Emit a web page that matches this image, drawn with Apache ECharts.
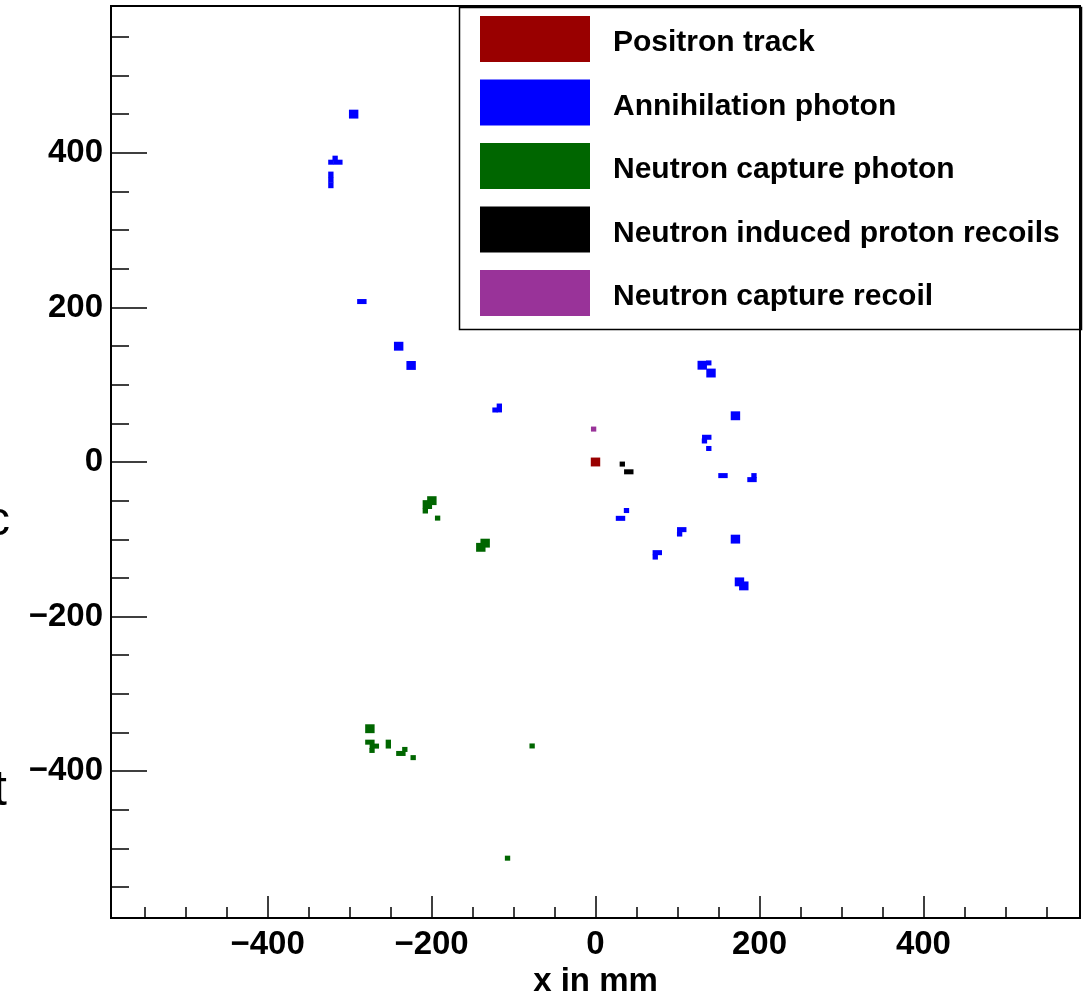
<!DOCTYPE html>
<html>
<head>
<meta charset="utf-8">
<script src="https://cdn.jsdelivr.net/npm/echarts@6/dist/echarts.min.js"></script>
<style>
  html, body { margin: 0; padding: 0; background: #fff; }
  #main { width: 1089px; height: 995px; }
</style>
</head>
<body>
<div id="main"></div>
<script>
// energy deposits, each row: [x mm, y mm, box width mm, box height mm]
const positronTrack = [
  [0, 0, 11.5, 11.5]
];
const annihilationPhoton = [
  [130.2, 125.2, 11.5, 11.5], [138.2, 128.2, 6.5, 6.5], [140.9, 115.1, 11.5, 11.5],
  [170.7, 59.8, 11.5, 11.5], [135.7, 32.0, 11.5, 6.5], [132.9, 27.2, 6.5, 6.5],
  [138.2, 17.5, 6.5, 6.5], [155.5, -17.6, 11.5, 6.5], [193.3, -17.6, 6.5, 6.5],
  [190.9, -22.8, 11.5, 6.5], [37.8, -62.8, 6.5, 6.5], [30.5, -72.9, 11.5, 6.5],
  [105.2, -87.5, 11.5, 6.5], [102.6, -93.2, 6.5, 6.5], [170.7, -99.8, 11.5, 11.5],
  [75.4, -117.3, 11.5, 6.5], [72.9, -123.0, 6.5, 6.5], [175.6, -155.1, 11.5, 11.5],
  [180.9, -160.3, 11.5, 11.5], [-295.0, 450.1, 11.5, 11.5], [-317.6, 393.1, 6.5, 6.5],
  [-322.8, 387.9, 6.5, 6.5], [-314.3, 387.9, 11.5, 6.5], [-322.8, 372.0, 6.5, 7.5],
  [-322.8, 365.0, 6.5, 7.5], [-322.8, 358.0, 6.5, 7.5], [-285.0, 207.6, 11.5, 6.5],
  [-240.1, 149.8, 11.5, 11.5], [-224.9, 124.9, 11.5, 11.5], [-117.3, 69.9, 6.5, 11.5],
  [-122.6, 67.3, 6.5, 6.5]
];
const neutronCapturePhoton = [
  [-199.6, -50.0, 11.5, 11.5], [-205.1, -55.1, 11.5, 11.5], [-207.6, -63.4, 6.5, 6.5],
  [-192.6, -72.6, 6.5, 6.5], [-134.6, -105.0, 11.5, 11.5], [-139.9, -110.4, 11.5, 11.5],
  [-275.2, -345.1, 11.5, 11.5], [-275.2, -362.5, 11.5, 6.5], [-269.8, -367.6, 11.5, 6.5],
  [-272.6, -373.2, 6.5, 6.5], [-252.7, -365.0, 6.5, 11.5], [-237.4, -377.1, 11.5, 6.5],
  [-232.6, -371.9, 6.5, 6.5], [-222.4, -382.5, 6.5, 6.5], [-77.3, -367.4, 6.5, 6.5],
  [-107.3, -512.6, 6.5, 6.5]
];
const protonRecoils = [
  [32.7, -2.7, 6.5, 6.5], [40.6, -12.7, 11.5, 6.5]
];
const captureRecoil = [
  [-2.3, 42.6, 6.5, 6.5]
];

const majorTicks = [-400, -200, 0, 200, 400];
const minorTicks = [-550, -500, -450, -350, -300, -250, -150, -100, -50,
                    50, 100, 150, 250, 300, 350, 450, 500, 550];

const font = 'Liberation Sans, Helvetica, Arial, sans-serif';

function boxes(name, color, data) {
  return {
    name: name,
    type: 'custom',
    itemStyle: { color: color },
    data: data,
    renderItem: function (params, api) {
      const c = api.coord([api.value(0), api.value(1)]);
      const s = api.size([api.value(2), api.value(3)]);
      return {
        type: 'rect',
        shape: { x: c[0] - s[0] / 2, y: c[1] - s[1] / 2, width: s[0], height: s[1] },
        style: { fill: api.visual('color') }
      };
    }
  };
}

function minus(v) {
  return String(v).replace('-', '\u2212');
}

function axisPair(dim, min, max, majorLen, minorLen) {
  const main = {
    type: 'value', min: min, max: max,
    position: dim === 'x' ? 'bottom' : 'left',
    axisLine: { show: true, onZero: false, lineStyle: { color: '#000', width: 2 } },
    axisTick: { show: true, inside: true, length: majorLen, customValues: majorTicks,
                lineStyle: { color: '#000', width: 1.5 } },
    axisLabel: { show: true, customValues: majorTicks, formatter: minus,
                 fontFamily: font, fontWeight: 'bold', fontSize: 33, color: '#000',
                 margin: dim === 'x' ? 10 : 8 },
    splitLine: { show: false }
  };
  const minor = {
    type: 'value', min: min, max: max,
    position: dim === 'x' ? 'bottom' : 'left',
    axisLine: { show: false, onZero: false },
    axisTick: { show: true, inside: true, length: minorLen, customValues: minorTicks,
                lineStyle: { color: '#000', width: 1.5 } },
    axisLabel: { show: false },
    splitLine: { show: false }
  };
  return [main, minor];
}

const xAxes = axisPair('x', -591, 591, 22, 11);
xAxes[0].name = 'x in mm';
xAxes[0].nameLocation = 'middle';
xAxes[0].nameGap = 44;
xAxes[0].nameTextStyle = { fontFamily: font, fontWeight: 'bold', fontSize: 33, color: '#000' };

const yAxes = axisPair('y', -590, 590, 36, 18);

const myChart = echarts.init(document.getElementById('main'), null, { renderer: 'canvas' });
myChart.setOption({
  animation: false,
  backgroundColor: '#fff',
  grid: { left: 111, right: 9, top: 6, bottom: 77, show: true, borderColor: '#000', borderWidth: 2,
          containLabel: false, outerBoundsMode: 'none' },
  xAxis: xAxes,
  yAxis: yAxes,
  legend: {
    orient: 'vertical',
    left: 480,
    top: 16,
    padding: 0,
    itemWidth: 110,
    itemHeight: 46,
    itemGap: 17.5,
    icon: 'rect',
    selectedMode: false,
    formatter: function (name) {
      return '{t|' + name + '}';
    },
    textStyle: {
      fontFamily: font, fontWeight: 'bold', fontSize: 30, color: '#000',
      padding: [0, 0, 0, 18],
      rich: {
        t: { fontFamily: font, fontWeight: 'bold', fontSize: 30, color: '#000',
             padding: [8, 0, 0, 0] }
      }
    },
    data: ['Positron track', 'Annihilation photon', 'Neutron capture photon',
           'Neutron induced proton recoils', 'Neutron capture recoil']
  },
  graphic: [
    { type: 'rect', left: 457, top: 5, z: 100,
      shape: { width: 622, height: 322 },
      style: { fill: 'none', stroke: '#000', lineWidth: 1.5 } },
    { type: 'text', x: -14, y: 498,
      style: { text: 'c', font: '48px ' + font, fill: '#000' } },
    { type: 'text', x: -7, y: 766,
      style: { text: 't', font: '50px ' + font, fill: '#000' } }
  ],
  series: [
    boxes('Positron track', '#990000', positronTrack),
    boxes('Annihilation photon', '#0000ff', annihilationPhoton),
    boxes('Neutron capture photon', '#006600', neutronCapturePhoton),
    boxes('Neutron induced proton recoils', '#000000', protonRecoils),
    boxes('Neutron capture recoil', '#993399', captureRecoil)
  ]
});

window.addEventListener('resize', function () {
  myChart.resize();
});
</script>
</body>
</html>
